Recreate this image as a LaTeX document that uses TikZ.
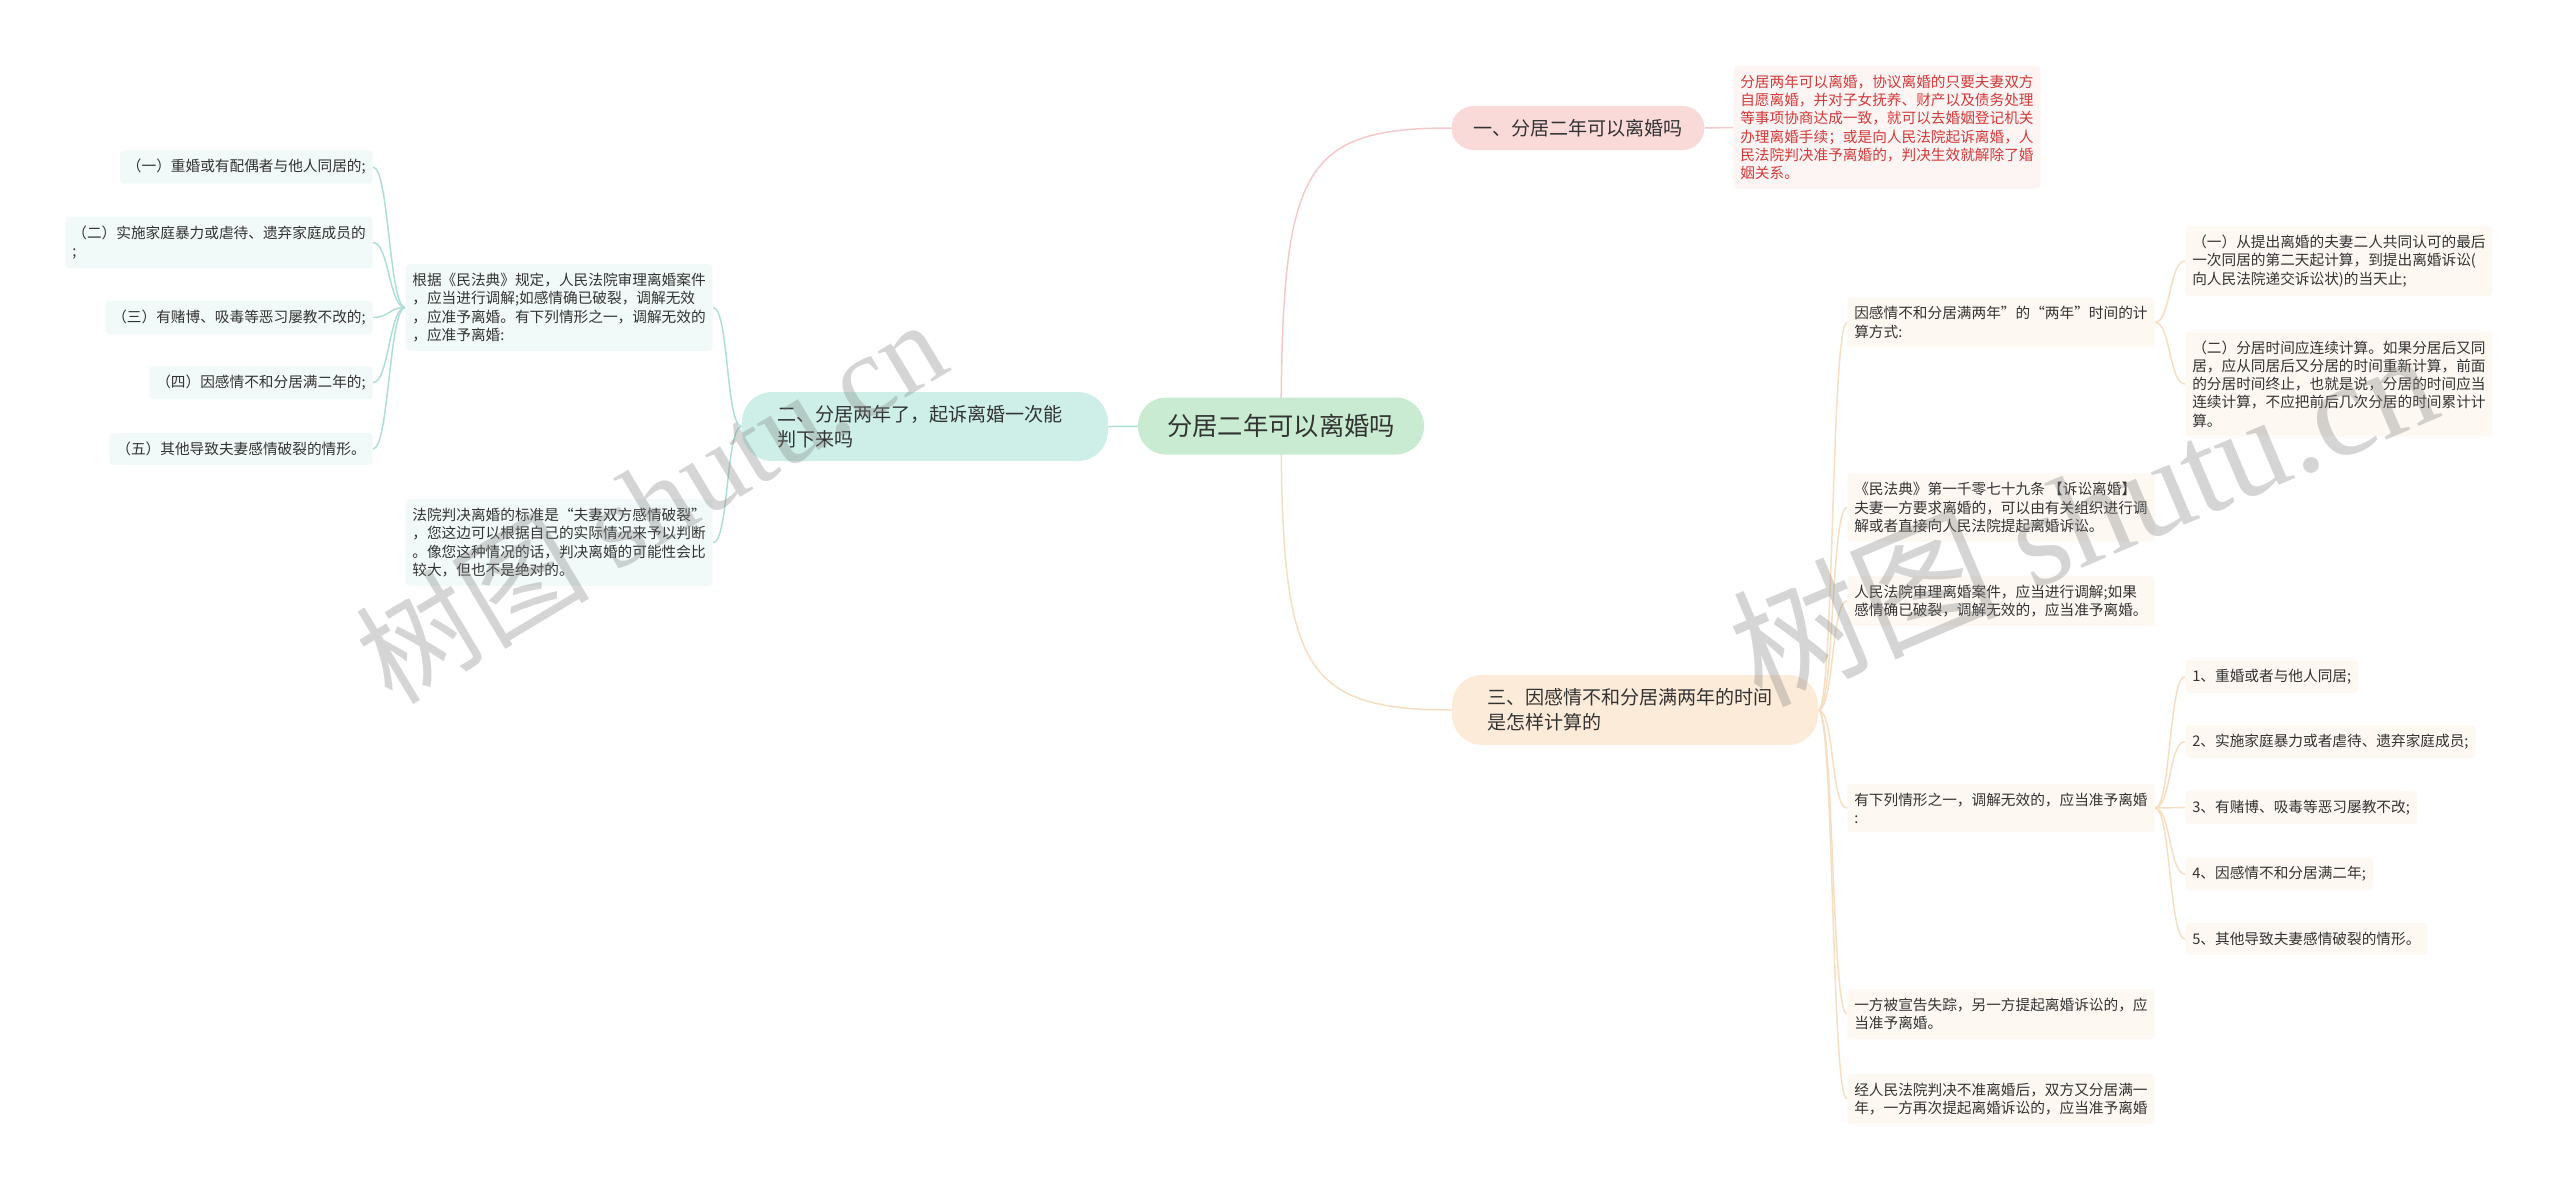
\documentclass[tikz,border=0pt]{standalone}
\usepackage{fontspec}
\setmainfont{Noto Sans CJK SC}
\newfontfamily\wmfont{Liberation Serif}
\usetikzlibrary{backgrounds}
\newdimen\upx \upx=0.75pt
\definecolor{txt}{HTML}{333333}
\definecolor{rootfill}{HTML}{C8EBD1}
\definecolor{pinkfill}{HTML}{FAD9D9}
\definecolor{tealfill}{HTML}{CDEFE8}
\definecolor{peachfill}{HTML}{FDEBD9}
\definecolor{pinkline}{HTML}{F5C9C9}
\definecolor{tealline}{HTML}{AEDFD6}
\definecolor{peachline}{HTML}{F6DEC3}
\definecolor{redtxt}{HTML}{D23A3A}
\definecolor{pinkkid}{HTML}{FDF4F4}
\definecolor{tealkid}{HTML}{F1FAF8}
\definecolor{peachkid}{HTML}{FDF8F2}
\tikzset{
  kid/.style={rounded corners=4\upx, inner xsep=7\upx, inner ysep=9\upx, align=left, text=txt, font=\fontsize{11}{13.7}\selectfont},
  tealkidbox/.style={kid, fill=tealkid},
  peachkidbox/.style={kid, fill=peachkid},
  redbox/.style={kid, fill=pinkkid, text=redtxt},
  branch/.style={inner sep=0pt, align=left, text=txt, font=\fontsize{14.3}{18.75}\selectfont},
  conn/.style={line width=1.5\upx},
  pinkconn/.style={conn, draw=pinkline},
  tealconn/.style={conn, draw=tealline},
  peachconn/.style={conn, draw=peachline},
  watermark/.style={text=gray, opacity=0.33, font=\fontsize{88}{96}\selectfont},
}
\begin{document}
\begin{tikzpicture}[x=0.75pt,y=-0.75pt]
\useasboundingbox (0,0) rectangle (2560,1189);

% root and branches
\node[fill=rootfill, rounded corners=28\upx, minimum width=286\upx, minimum height=57\upx, inner sep=0pt, text=txt, font=\fontsize{19}{23}\selectfont] (root) at (1281,426) {分居二年可以离婚吗};
\node[branch, fill=pinkfill, rounded corners=22\upx, minimum width=253\upx, minimum height=44\upx] (b1) at (1578,128) {一、分居二年可以离婚吗};
\node[branch, fill=tealfill, rounded corners=30\upx, text width=296\upx, minimum height=69\upx, inner xsep=35\upx] (b2) at (925,426.5) {二、分居两年了，起诉离婚一次能\\判下来吗};
\node[branch, fill=peachfill, rounded corners=30\upx, text width=296\upx, minimum height=70\upx, inner xsep=35\upx] (b3) at (1635,710) {三、因感情不和分居满两年的时间\\是怎样计算的};

% branch 1 child
\node[redbox, anchor=west] (r1) at (1733,127.5) {分居两年可以离婚，协议离婚的只要夫妻双方\\自愿离婚，并对子女抚养、财产以及债务处理\\等事项协商达成一致，就可以去婚姻登记机关\\办理离婚手续；或是向人民法院起诉离婚，人\\民法院判决准予离婚的，判决生效就解除了婚\\姻关系。};

% branch 2 children
\node[tealkidbox, anchor=east] (k1) at (713,307.5) {根据《民法典》规定，人民法院审理离婚案件\\，应当进行调解;如感情确已破裂，调解无效\\，应准予离婚。有下列情形之一，调解无效的\\，应准予离婚:};
\node[tealkidbox, anchor=east] (k2) at (713,542.5) {法院判决离婚的标准是“夫妻双方感情破裂”\\，您这边可以根据自己的实际情况来予以判断\\。像您这种情况的话，判决离婚的可能性会比\\较大，但也不是绝对的。};
\node[tealkidbox, anchor=east] (l1) at (373,167) {（一）重婚或有配偶者与他人同居的;};
\node[tealkidbox, anchor=east] (l2) at (373,242.5) {（二）实施家庭暴力或虐待、遗弃家庭成员的\\;};
\node[tealkidbox, anchor=east] (l3) at (373,317.5) {（三）有赌博、吸毒等恶习屡教不改的;};
\node[tealkidbox, anchor=east] (l4) at (373,382.5) {（四）因感情不和分居满二年的;};
\node[tealkidbox, anchor=east] (l5) at (373,449) {（五）其他导致夫妻感情破裂的情形。};

% branch 3 children
\node[peachkidbox, anchor=west] (ca) at (1847,322.5) {因感情不和分居满两年”的“两年”时间的计\\算方式:};
\node[peachkidbox, anchor=west] (cb) at (1847,507.5) {《民法典》第一千零七十九条 【诉讼离婚】\\夫妻一方要求离婚的，可以由有关组织进行调\\解或者直接向人民法院提起离婚诉讼。};
\node[peachkidbox, anchor=west] (cc) at (1847,601) {人民法院审理离婚案件，应当进行调解;如果\\感情确已破裂，调解无效的，应当准予离婚。};
\node[peachkidbox, anchor=west] (cd) at (1847,808) {有下列情形之一，调解无效的，应当准予离婚\\:};
\node[peachkidbox, anchor=west] (ce) at (1847,1014) {一方被宣告失踪，另一方提起离婚诉讼的，应\\当准予离婚。};
\node[peachkidbox, anchor=west] (cf) at (1847,1099) {经人民法院判决不准离婚后，双方又分居满一\\年，一方再次提起离婚诉讼的，应当准予离婚};
\node[peachkidbox, anchor=west] (a1) at (2185,261) {（一）从提出离婚的夫妻二人共同认可的最后\\一次同居的第二天起计算，到提出离婚诉讼(\\向人民法院递交诉讼状)的当天止;};
\node[peachkidbox, anchor=west] (a2) at (2185,384) {（二）分居时间应连续计算。如果分居后又同\\居，应从同居后又分居的时间重新计算，前面\\的分居时间终止，也就是说，分居的时间应当\\连续计算，不应把前后几次分居的时间累计计\\算。};
\node[peachkidbox, anchor=west] (d1) at (2185,676.5) {1、重婚或者与他人同居;};
\node[peachkidbox, anchor=west] (d2) at (2185,741.5) {2、实施家庭暴力或者虐待、遗弃家庭成员;};
\node[peachkidbox, anchor=west] (d3) at (2185,807.5) {3、有赌博、吸毒等恶习屡教不改;};
\node[peachkidbox, anchor=west] (d4) at (2185,874) {4、因感情不和分居满二年;};
\node[peachkidbox, anchor=west] (d5) at (2185,939) {5、其他导致夫妻感情破裂的情形。};

\begin{pgfonlayer}{background}
\draw[pinkconn] (root.center) .. controls (1282,170) and (1300,128) .. (b1.west);
\draw[peachconn] (root.center) .. controls (1282,665) and (1300,710) .. (b3.west);
\draw[tealconn] (root.center) -- (b2.east);
\draw[pinkconn] (b1.east) -- (r1.west);
\foreach \k in {k1,k2}
  \draw[tealconn] (b2.west) .. controls +(-16,0) and +(16,0) .. (\k.east);
\foreach \k in {l1,l2,l3,l4,l5}
  \draw[tealconn] (k1.west) .. controls +(-16,0) and +(16,0) .. (\k.east);
\foreach \k in {ca,cb,cc,cd,ce,cf}
  \draw[peachconn] (b3.east) .. controls +(16,0) and +(-16,0) .. (\k.west);
\foreach \k in {a1,a2}
  \draw[peachconn] (ca.east) .. controls +(16,0) and +(-16,0) .. (\k.west);
\foreach \k in {d1,d2,d3,d4,d5}
  \draw[peachconn] (cd.east) .. controls +(16,0) and +(-16,0) .. (\k.west);
\end{pgfonlayer}

% watermarks
\node[watermark, rotate=31] (wm1) at (650,500) {树图 {\wmfont shutu.cn}};
\node[watermark, rotate=23, font=\fontsize{100}{108}\selectfont] (wm2) at (2082,514) {树图 {\wmfont shutu.cn}};
\end{tikzpicture}
\end{document}
